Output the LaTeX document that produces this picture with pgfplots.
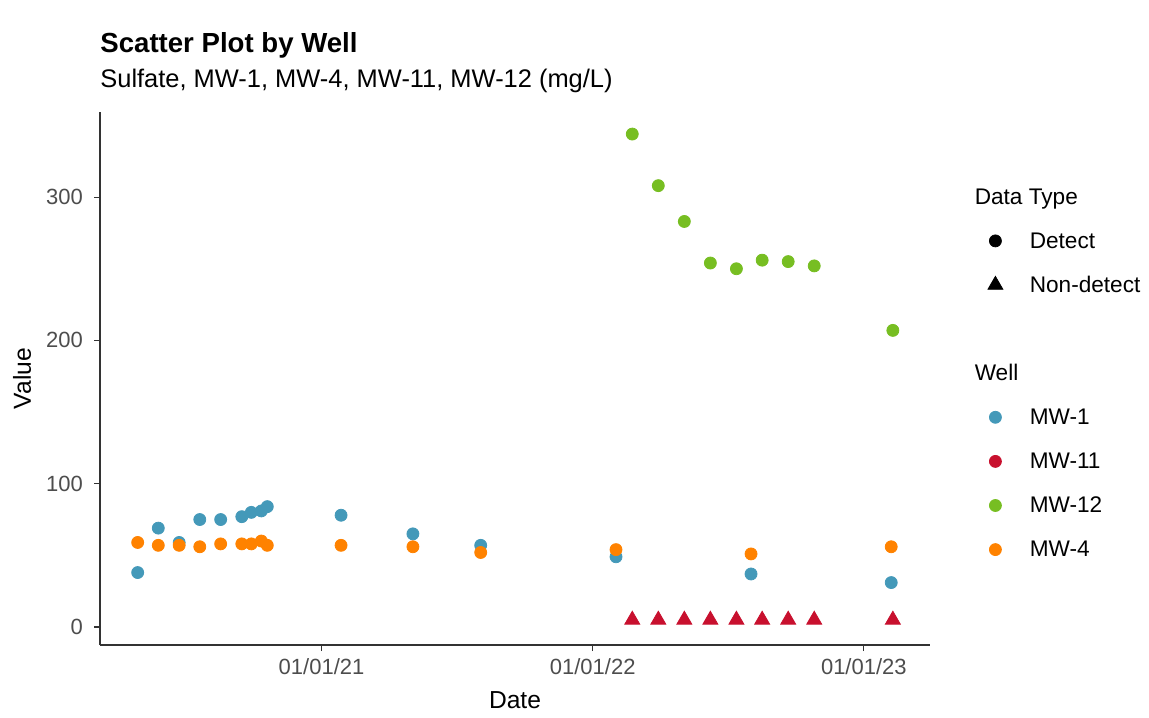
\documentclass[border=0pt]{standalone}
\usepackage{pgfplots}
\pgfplotsset{compat=1.18}
\usepackage{pgfplotstable}
\usepackage{fontspec}
\setmainfont{Liberation Sans}
\definecolor{mwone}{HTML}{4499B9}
\definecolor{mweleven}{HTML}{C8102E}
\definecolor{mwtwelve}{HTML}{77BE22}
\definecolor{mwfour}{HTML}{FF8200}
\definecolor{ticktxt}{HTML}{4D4D4D}
\definecolor{axline}{HTML}{333333}

\pgfplotstableread{
date value
2020.322 38
2020.398 69
2020.475 59
2020.551 75
2020.628 75
2020.706 77
2020.741 80
2020.778 81
2020.800 84
2021.072 78
2021.337 65
2021.587 57
2022.086 49
2022.584 37
2023.101 31
}\mwonetab

\pgfplotstableread{
date value
2022.146 5
2022.242 5
2022.338 5
2022.434 5
2022.530 5
2022.625 5
2022.721 5
2022.817 5
2023.107 5
}\mwelevtab

\pgfplotstableread{
date value
2022.146 344
2022.242 308
2022.338 283
2022.434 254
2022.530 250
2022.625 256
2022.721 255
2022.817 252
2023.107 207
}\mwtwelvetab

\pgfplotstableread{
date value
2020.322 59
2020.398 57
2020.475 57
2020.551 56
2020.628 58
2020.706 58
2020.741 58
2020.778 60
2020.800 57
2021.072 57
2021.337 56
2021.587 52
2022.086 54
2022.584 51
2023.101 56
}\mwfourtab

\begin{document}
\begin{tikzpicture}
\path[use as bounding box] (-50pt,-36pt) rectangle (524.5pt,322.5pt);
\begin{axis}[
  at={(0pt,0pt)}, anchor=south west,
  scale only axis, width=415pt, height=266.5pt,
  xmin=2020.183, xmax=2023.244, ymin=-12.56, ymax=359.4,
  axis x line*=bottom, axis y line*=left,
  axis line style={-, axline, line width=0.6pt},
  xtick={2021,2022,2023}, xticklabels={01/01/21,01/01/22,01/01/23},
  ytick={0,100,200,300},
  minor tick num=0,
  tick align=outside, major tick length=3pt,
  tick style={axline, line width=0.6pt},
  /pgf/number format/assume math mode=true,
  ticklabel style={font=\fontsize{11}{13}\selectfont, text=ticktxt},
  yticklabel style={xshift=-2pt},
  xlabel={Date}, ylabel={Value},
  label style={font=\fontsize{12.3}{14}\selectfont},
  xlabel style={at={(axis description cs:0.5,-0.1032)}, anchor=center},
  ylabel style={at={(axis description cs:-0.094,0.5)}, anchor=center},
  legend style={
    at={(axis description cs:1.06747,0.8608)}, anchor=north west,
    draw=none, fill=none, inner sep=0pt, outer sep=0pt,
    row sep=10.05pt, column sep=0pt,
    font=\fontsize{11.3}{13}\selectfont,
    nodes={inner sep=0pt, outer sep=0pt, text height=9pt, text depth=3pt},
  },
  legend cell align=left,
  legend image code/.code={\path (0pt,0pt) (21.5pt,0pt); \draw[#1] plot coordinates {(4.5pt,0.7pt)};},
  clip=false,
]
\addplot[only marks, mark=*, mark size=3pt, color=mwone, forget plot] table[x=date,y=value] {\mwonetab};
\addplot[only marks, mark=triangle*, mark size=4.3pt, color=mweleven, forget plot] table[x=date,y=value] {\mwelevtab};
\addplot[only marks, mark=*, mark size=3pt, color=mwtwelve, forget plot] table[x=date,y=value] {\mwtwelvetab};
\addplot[only marks, mark=*, mark size=3pt, color=mwfour, forget plot] table[x=date,y=value] {\mwfourtab};

\addlegendimage{empty legend}\addlegendentry{\llap{\makebox[28pt][l]{Data Type}}}
\addlegendimage{only marks, mark=*, mark size=3pt, black}\addlegendentry{Detect}
\addlegendimage{only marks, mark=triangle*, mark size=4.3pt, black}\addlegendentry{Non-detect}
\addlegendimage{empty legend}\addlegendentry{}
\addlegendimage{empty legend}\addlegendentry{\llap{\makebox[28pt][l]{Well}}}
\addlegendimage{only marks, mark=*, mark size=3pt, mwone}\addlegendentry{MW-1}
\addlegendimage{only marks, mark=*, mark size=3pt, mweleven}\addlegendentry{MW-11}
\addlegendimage{only marks, mark=*, mark size=3pt, mwtwelve}\addlegendentry{MW-12}
\addlegendimage{only marks, mark=*, mark size=3pt, mwfour}\addlegendentry{MW-4}
\end{axis}
\node[anchor=base west, inner sep=0pt, font=\fontsize{13.8}{16}\selectfont\bfseries] at (0pt,296.25pt) {Scatter Plot by Well};
\node[anchor=base west, inner sep=0pt, font=\fontsize{12.72}{15}\selectfont] at (0pt,278.75pt) {Sulfate, MW-1, MW-4, MW-11, MW-12 (mg/L)};
\end{tikzpicture}
\end{document}
